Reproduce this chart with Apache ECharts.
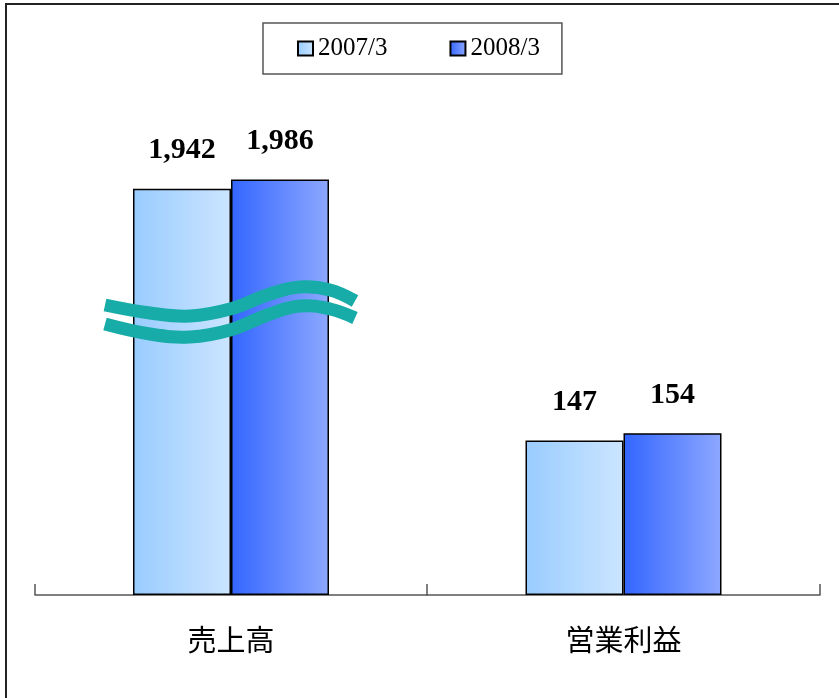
<!DOCTYPE html>
<html>
<head>
<meta charset="utf-8">
<style>
  html, body { margin: 0; padding: 0; background: #ffffff; }
  #chart { width: 839px; height: 698px; }
</style>
<script src="https://cdn.jsdelivr.net/npm/echarts@6/dist/echarts.min.js"></script>
</head>
<body>
<div id="chart"></div>
<script>
// Categories and fiscal-year series
const categories = ['売上高', '営業利益'];
const seriesNames = ['2007/3', '2008/3'];
const values2007 = [1942, 147];
const values2008 = [1986, 154];

// The two categories sit on separate value scales (the sales scale is broken)
const salesAxisMax = 2390;
const profitAxisMax = 476;

const fill2007 = new echarts.graphic.LinearGradient(0, 0, 1, 0, [
  { offset: 0, color: '#99ccff' },
  { offset: 1, color: '#cce5ff' }
]);
const fill2008 = new echarts.graphic.LinearGradient(0, 0, 1, 0, [
  { offset: 0, color: '#3366ff' },
  { offset: 1, color: '#8ea8ff' }
]);
const fills = [fill2007, fill2008];

const labelStyle = {
  show: true,
  position: 'top',
  distance: 23,
  fontFamily: '"Liberation Serif", "Times New Roman", serif',
  fontWeight: 'bold',
  fontSize: 30,
  color: '#000000',
  formatter: p => Number(p.value).toLocaleString('en-US')
};

function makeSeries(name, idx, gridIdx, value) {
  return {
    type: 'bar',
    name: name,
    xAxisIndex: gridIdx,
    yAxisIndex: gridIdx,
    data: [value],
    barWidth: 98,
    barGap: '0%',
    itemStyle: { color: fills[idx], borderColor: '#000000', borderWidth: 1.5 },
    label: labelStyle,
    emphasis: { disabled: true },
    animation: false
  };
}

const xAxisCommon = {
  type: 'category',
  boundaryGap: true,
  axisLine: { show: true, onZero: false, lineStyle: { color: '#555555', width: 1.5 } },
  axisTick: { show: true, interval: 0, inside: true, length: 11, lineStyle: { color: '#555555', width: 1.5 } },
  axisLabel: {
    margin: 30,
    fontSize: 29,
    color: '#000000',
    fontFamily: '"Noto Sans CJK JP", sans-serif'
  }
};

const yAxisCommon = {
  type: 'value',
  min: 0,
  show: false,
  splitLine: { show: false }
};

const chart = echarts.init(document.getElementById('chart'), null, { renderer: 'canvas' });

chart.setOption({
  backgroundColor: '#ffffff',
  animation: false,
  legend: {
    data: seriesNames,
    left: 263,
    top: 23,
    padding: [13, 22, 13, 34],
    borderColor: '#555555',
    borderWidth: 1.5,
    itemWidth: 15,
    itemHeight: 14,
    itemGap: 62,
    icon: 'rect',
    selectedMode: false,
    textStyle: {
      fontFamily: '"Liberation Serif", "Times New Roman", serif',
      fontSize: 25,
      color: '#000000'
    }
  },
  grid: [
    { left: 35, width: 392, top: 95, bottom: 103 },
    { left: 427, width: 393, top: 95, bottom: 103 }
  ],
  xAxis: [
    Object.assign({ gridIndex: 0, data: [categories[0]] }, xAxisCommon),
    Object.assign({ gridIndex: 1, data: [categories[1]] }, xAxisCommon)
  ],
  yAxis: [
    Object.assign({ gridIndex: 0, max: salesAxisMax }, yAxisCommon),
    Object.assign({ gridIndex: 1, max: profitAxisMax }, yAxisCommon)
  ],
  series: [
    makeSeries(seriesNames[0], 0, 0, values2007[0]),
    makeSeries(seriesNames[1], 1, 0, values2008[0]),
    makeSeries(seriesNames[0], 0, 1, values2007[1]),
    makeSeries(seriesNames[1], 1, 1, values2008[1])
  ],
  graphic: [
    // frame on the left and top edges
    {
      type: 'polyline',
      silent: true,
      shape: { points: [[6, 698], [6, 4], [839, 4]] },
      style: { stroke: '#222222', lineWidth: 2, fill: null }
    },
    // break marks across the sales bars
    {
      type: 'polyline',
      silent: true,
      z: 100,
      shape: {
        smooth: 0.4,
        points: [[105, 305], [150, 313], [190, 316], [230, 309], [270, 294], [300, 287], [330, 290], [355, 301]]
      },
      style: { stroke: '#17aca7', lineWidth: 13, fill: null }
    },
    {
      type: 'polyline',
      silent: true,
      z: 100,
      shape: {
        smooth: 0.4,
        points: [[105, 324], [150, 334], [190, 337], [230, 330], [270, 314], [300, 306], [330, 309], [355, 318]]
      },
      style: { stroke: '#17aca7', lineWidth: 13, fill: null }
    }
  ]
});
</script>
</body>
</html>
